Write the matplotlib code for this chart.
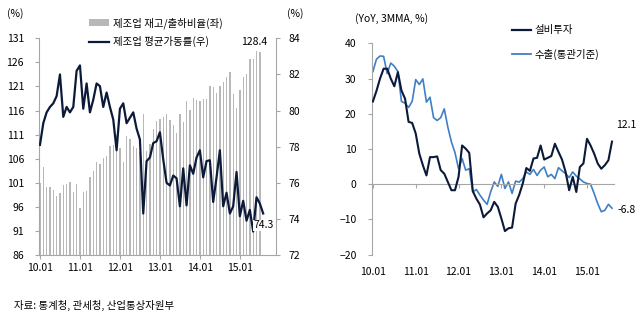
import numpy as np
import matplotlib
matplotlib.use("Agg")
from matplotlib import pyplot as plt
from matplotlib.lines import Line2D
from matplotlib.patches import Patch

plt.rcParams['font.family'] = ['Noto Sans CJK KR', 'DejaVu Sans']

# left chart: monthly from 2010.01
inv_ratio = [101.0, 104.2, 100.1, 100.1, 99.4, 98.2, 98.8, 100.5, 100.7, 101.2,
             99.0, 100.8, 95.7, 99.1, 99.3, 102.3, 103.4, 105.4, 104.8, 106.2,
             106.6, 108.6, 108.8, 111.0, 108.3, 105.3, 110.7, 110.0, 108.7, 108.3,
             107.3, 115.2, 107.6, 109.0, 112.1, 113.8, 114.3, 114.7, 115.2, 114.0,
             113.1, 111.4, 115.3, 113.6, 118.0, 116.2, 118.6, 118.2, 118.0, 118.4,
             118.4, 121.0, 120.8, 119.6, 121.0, 122.0, 122.9, 124.0, 119.5, 116.5,
             120.3, 122.9, 123.6, 126.7, 126.8, 128.4, 128.2]
util_rate = [78.1, 79.3, 79.9, 80.2, 80.4, 80.8, 82.0, 79.65, 80.2, 79.9,
             80.2, 82.2, 82.5, 80.1, 81.5, 79.9, 80.6, 81.5, 81.35, 80.2,
             81.0, 80.2, 79.5, 77.8, 80.1, 80.4, 79.3, 79.6, 79.9, 79.0,
             78.4, 74.3, 77.2, 77.4, 78.2, 78.3, 78.8, 77.3, 76.0, 75.85,
             76.4, 76.25, 74.7, 76.8, 74.75, 76.97, 76.5, 77.4, 77.8, 76.3,
             77.2, 77.25, 74.94, 76.3, 77.8, 74.7, 75.45, 74.3, 74.7, 76.6,
             74.15, 75.0, 73.9, 74.5, 73.3, 75.2, 74.85, 74.3]

# right chart
capex = [23.5, 26.5, 30.0, 32.8, 32.8, 30.0, 27.8, 31.8, 26.6, 24.3,
         17.7, 17.4, 14.4, 8.7, 5.4, 2.5, 7.7, 7.7, 7.9, 4.0,
         3.0, 0.65, -1.7, -1.7, 2.1, 11.0, 10.1, 8.9, -2.0, -4.1,
         -5.8, -9.4, -8.3, -7.4, -5.0, -6.4, -9.7, -13.3, -12.5, -12.3,
         -5.5, -3.0, 0.2, 4.6, 3.8, 7.3, 7.5, 11.0, 7.0, 7.5,
         8.0, 11.5, 9.2, 7.0, 3.5, -1.7, 2.1, -2.2, 4.9, 5.9,
         12.9, 11.0, 8.7, 5.9, 4.4, 5.4, 6.8, 12.1]
exports = [32.0, 35.5, 36.4, 36.3, 31.4, 34.4, 33.5, 32.0, 23.5, 23.0,
           21.8, 23.5, 29.7, 28.3, 29.9, 23.3, 24.7, 18.9, 18.1, 18.9,
           21.4, 16.2, 12.0, 9.0, 4.4, 7.3, 4.0, 4.4, -2.2, -1.5,
           -3.1, -4.5, -5.7, -2.2, 0.65, -0.6, 2.8, -1.2, 0.65, -2.6,
           0.9, 0.6, 1.6, 3.5, 2.8, 4.2, 2.5, 4.0, 4.9, 2.1,
           2.8, 1.6, 4.7, 3.8, 3.0, 1.9, 3.5, 2.3, 1.5, 0.65,
           0.2, 0.0, -2.6, -5.5, -7.8, -7.4, -5.7, -6.8]

year_labels = ['10.01', '11.01', '12.01', '13.01', '14.01', '15.01']
year_pos = [0, 12, 24, 36, 48, 60]

gray = '#b8b8b8'
axis_gray = '#a6a6a6'
navy = '#0c1a3a'
blue = '#3f7fc6'
fs = 7.5

fig = plt.figure(figsize=(6.4, 3.22), dpi=100)

# ---------------- left chart
ax = fig.add_axes([0.0614, 0.208, 0.3696, 0.673])
ax2 = ax.twinx()
ax.bar(np.arange(len(inv_ratio)), inv_ratio, width=0.4, color=gray)
ax.set_ylim(86, 131)
ax.set_yticks(np.arange(86, 132, 5))
ax.set_xlim(-0.2, 70.8)
ax.set_xticks(year_pos)
ax.set_xticklabels(year_labels)
ax2.plot(np.arange(len(util_rate)), util_rate, color=navy, lw=1.6)
ax2.set_ylim(72, 84)
ax2.set_yticks(np.arange(72, 85, 2))

for a in (ax, ax2):
    a.spines['top'].set_visible(False)
    for s in ('left', 'right', 'bottom'):
        a.spines[s].set_color(axis_gray)
        a.spines[s].set_linewidth(0.8)
    a.tick_params(labelsize=fs, color=axis_gray, length=3, width=0.8, pad=3)
ax.spines['right'].set_visible(False)
ax2.spines['left'].set_visible(False)
ax2.spines['bottom'].set_visible(False)
ax.tick_params(axis='y', pad=8)
ax2.tick_params(axis='y', pad=6)

ax.text(-0.1, 1.1, '(%)', transform=ax.transAxes, fontsize=fs, ha='center')
ax2.text(1.08, 1.1, '(%)', transform=ax.transAxes, fontsize=fs, ha='center')

n_bar = len(inv_ratio) - 1
ax.annotate(f'{inv_ratio[n_bar - 1]}', (n_bar - 1, inv_ratio[n_bar - 1]), xytext=(-2, 3),
            textcoords='offset points', ha='center', va='bottom', fontsize=fs)
n_line = len(util_rate) - 1
ax2.annotate(f'{util_rate[n_line]}', (n_line, util_rate[n_line]), xytext=(0, -5),
             textcoords='offset points', ha='center', va='top', fontsize=fs,
             bbox=dict(facecolor='white', edgecolor='none', pad=0.3))

handles = [Patch(facecolor=gray, edgecolor='none'),
           Line2D([], [], color=navy, lw=1.6)]
fig.legend(handles, ['제조업 재고/출하비율(좌)', '제조업 평균가동률(우)'],
           loc='upper left', bbox_to_anchor=(0.125, 0.975), frameon=False,
           fontsize=fs, handlelength=1.9, handleheight=0.7, labelspacing=0.7,
           handletextpad=0.4)

# ---------------- right chart
bx = fig.add_axes([0.581, 0.209, 0.378, 0.6565])
x = np.arange(len(capex))
bx.plot(x, capex, color=navy, lw=1.5, zorder=3)
bx.plot(x, exports, color=blue, lw=1.2, zorder=2)
bx.set_ylim(-20, 40)
bx.set_yticks(np.arange(-20, 41, 10))
bx.set_xlim(-0.3, 67.5)
for s in ('top', 'right'):
    bx.spines[s].set_visible(False)
bx.spines['left'].set_color(axis_gray)
bx.spines['bottom'].set_position(('data', 0))
bx.spines['bottom'].set_color(axis_gray)
bx.set_xticks(year_pos)
bx.tick_params(axis='x', labelbottom=False, color=axis_gray, length=3, width=0.8)
bx.tick_params(axis='y', labelsize=fs, color=axis_gray, length=3, width=0.8, pad=8)
sec = bx.secondary_xaxis('bottom')
sec.set_xticks(year_pos)
sec.set_xticklabels(year_labels)
sec.tick_params(length=0, labelsize=fs, pad=9)
sec.spines['bottom'].set_visible(False)

bx.text(-0.07, 1.1, '(YoY, 3MMA, %)', transform=bx.transAxes, fontsize=fs)
bx.annotate(f'{capex[-1]}', (x[-1], capex[-1]), xytext=(3, 8),
            textcoords='offset points', fontsize=fs, va='bottom')
bx.annotate(f'{exports[-1]}', (x[-1], exports[-1]), xytext=(4, -1),
            textcoords='offset points', fontsize=fs, va='center')

bx.legend([Line2D([], [], color=navy, lw=1.6), Line2D([], [], color=blue, lw=1.3)],
          ['설비투자', '수출(통관기준)'], loc='upper left', bbox_to_anchor=(0.54, 1.13),
          frameon=False, fontsize=fs, handlelength=1.8, labelspacing=1.3,
          handletextpad=0.4)

fig.text(0.022, 0.04, '자료: 통계청, 관세청, 산업통상자원부', fontsize=fs)

fig.savefig('out.png', dpi=100)
